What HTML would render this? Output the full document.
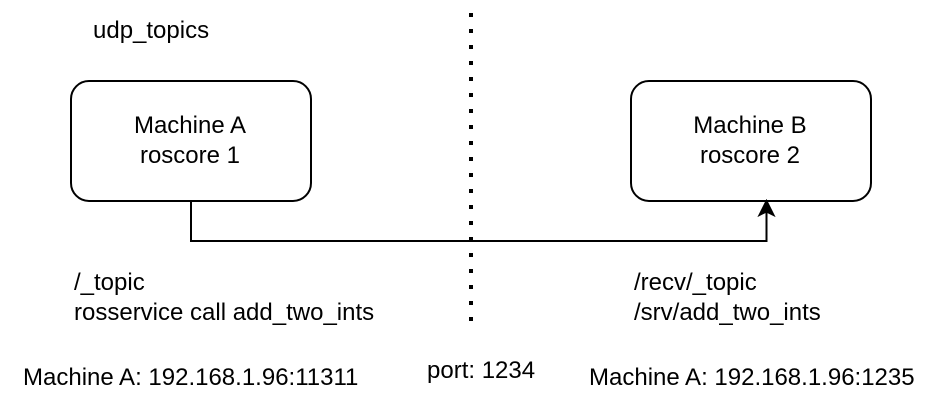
<!DOCTYPE html>
<html>
<head>
<meta charset="utf-8">
<style>
html,body{margin:0;padding:0;background:#fff;width:940px;height:410px;overflow:hidden}
svg{display:block}
text{font-family:"Liberation Sans",Arial,sans-serif;font-size:24px;fill:#000}
</style>
</head>
<body>
<svg width="940" height="410" viewBox="0 0 940 410">
  <rect width="940" height="410" fill="#fff"/>
  <line x1="471" y1="13" x2="471" y2="321" stroke="#000" stroke-width="4" stroke-dasharray="4 12"/>
  <rect x="71" y="81" width="240" height="120" rx="18" ry="18" fill="#fff" stroke="#000" stroke-width="2"/>
  <rect x="631" y="81" width="240" height="120" rx="18" ry="18" fill="#fff" stroke="#000" stroke-width="2"/>
  <path d="M191 201V241H766.5V212" fill="none" stroke="#000" stroke-width="2"/>
  <path d="M766.5 200L774.5 216L766.5 212L758.5 216Z" fill="#000" stroke="#000" stroke-width="1"/>
  <text x="93" y="38">udp_topics</text>
  <text x="190" y="133" text-anchor="middle">Machine A</text>
  <text x="190" y="163" text-anchor="middle">roscore 1</text>
  <text x="750" y="133" text-anchor="middle">Machine B</text>
  <text x="750" y="163" text-anchor="middle">roscore 2</text>
  <text x="74" y="290">/_topic</text>
  <text x="74" y="320">rosservice call add_two_ints</text>
  <text x="634" y="290">/recv/_topic</text>
  <text x="634" y="320">/srv/add_two_ints</text>
  <text x="23" y="385">Machine A: 192.168.1.96:11311</text>
  <text x="427" y="378">port: 1234</text>
  <text x="589" y="385">Machine A: 192.168.1.96:1235</text>
</svg>
</body>
</html>
